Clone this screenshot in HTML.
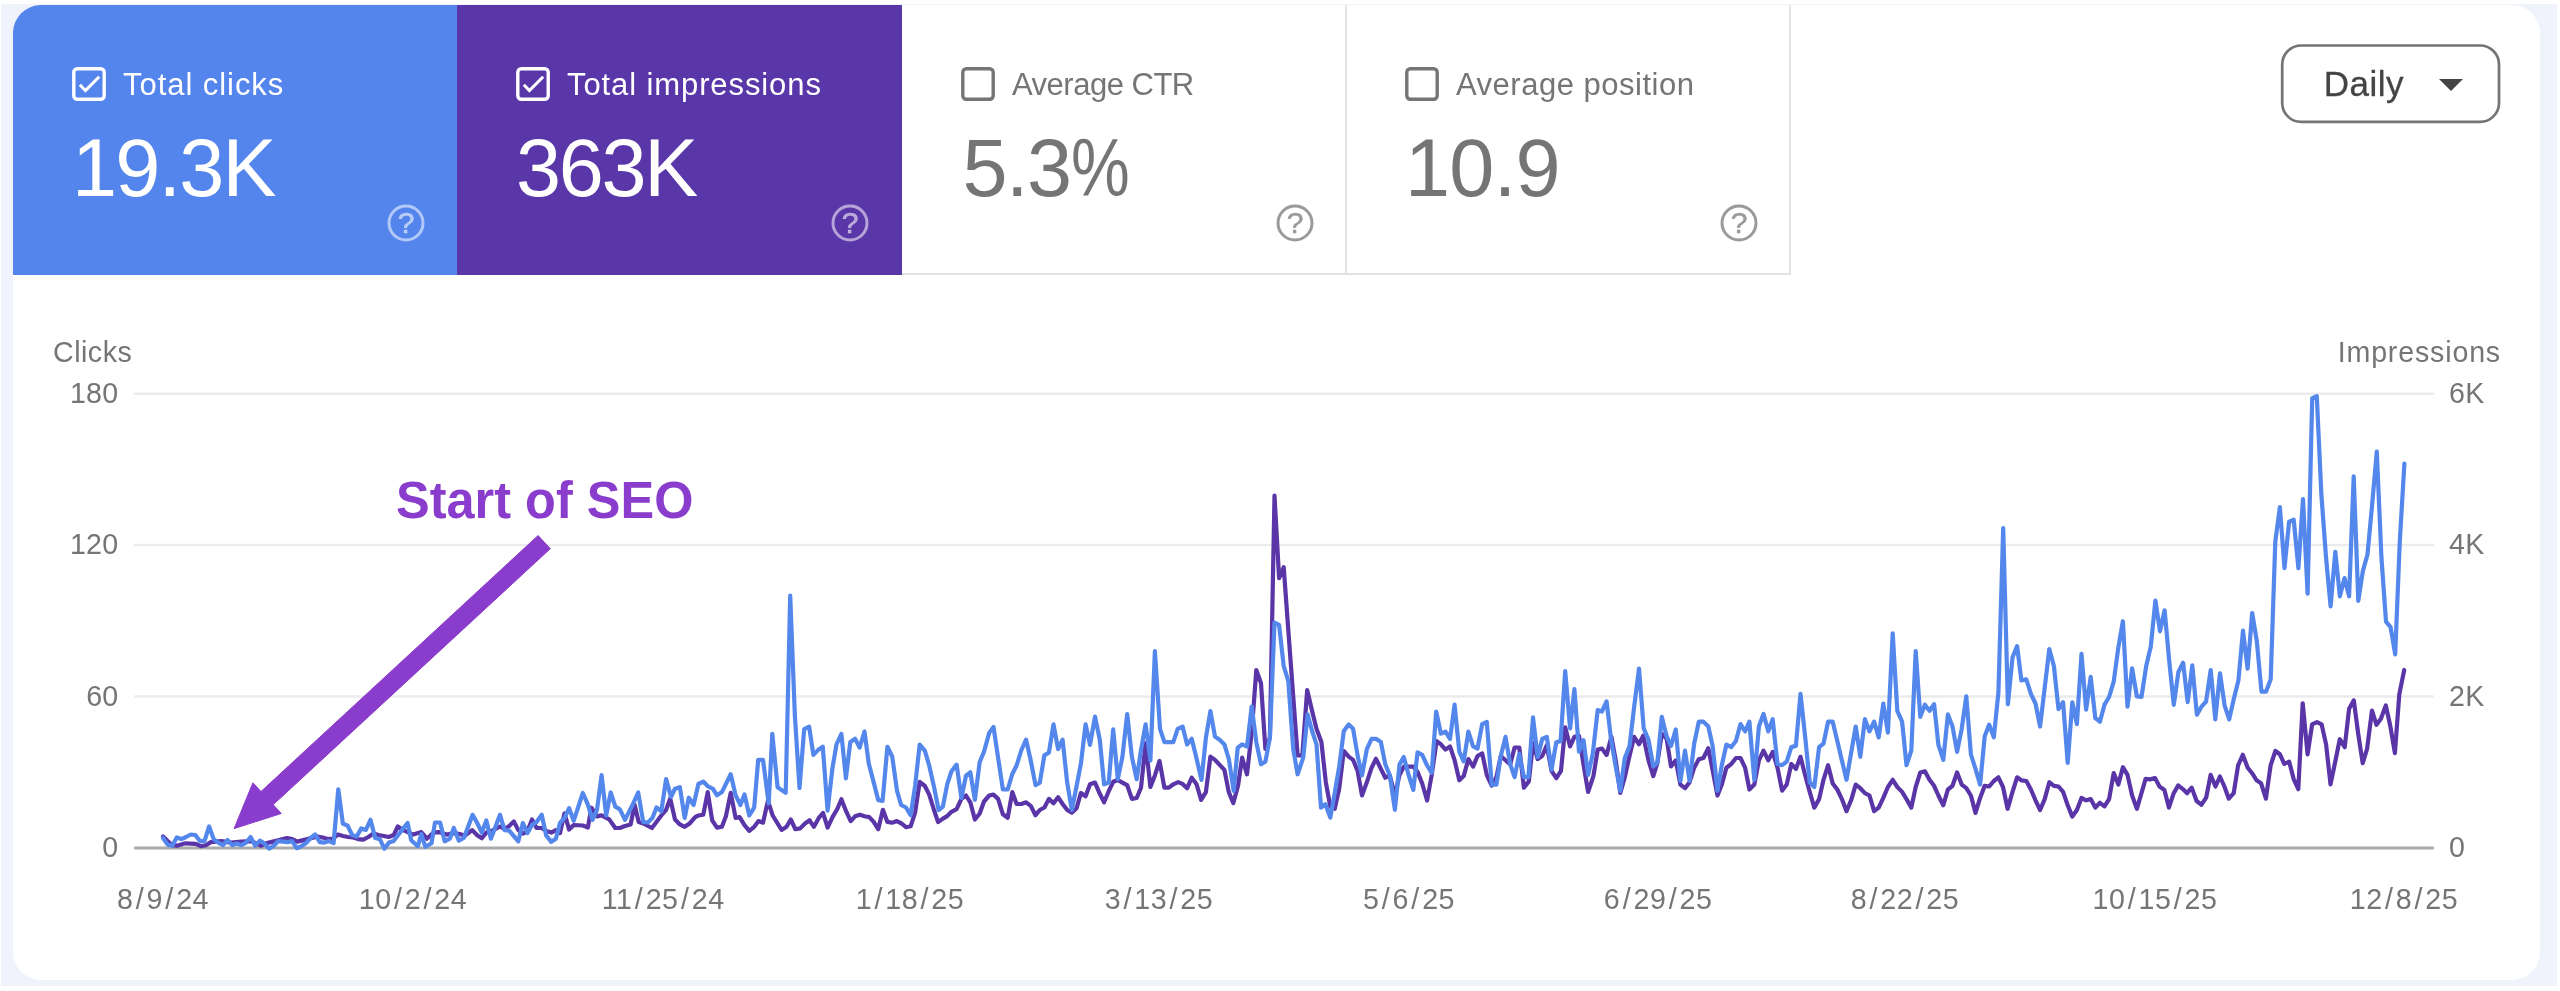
<!DOCTYPE html><html><head><meta charset="utf-8"><title>Search Console Performance</title><style>

*{margin:0;padding:0;box-sizing:border-box}
html,body{width:2560px;height:991px;overflow:hidden;background:#fff;font-family:"Liberation Sans",sans-serif}
#root{position:absolute;left:0;top:0;width:2560px;height:991px;will-change:transform;transform:translateZ(0)}
#bg{position:absolute;left:1px;top:4px;width:2556px;height:982px;background:#f0f3fb}
#card{position:absolute;left:13px;top:5px;width:2527px;height:975px;background:#fff;border-radius:28px;overflow:hidden}
.tile{position:absolute;top:0;height:270px;width:445px}
.tile .lbl{position:absolute;left:110px;top:60px;font-size:31px;line-height:40px;white-space:nowrap}
.tile .num{position:absolute;left:59px;top:115px;font-size:81px;line-height:96px;white-space:nowrap}
.pc{display:inline-block;transform:scaleX(.815);transform-origin:0 50%}
.tile svg.cb{position:absolute;left:57.3px;top:59.6px}
.tile svg.help{position:absolute;left:371.5px;top:197.4px}
#t1{left:0;background:#5485ec;color:#fff}
#t2{left:444px;width:445px;background:#5a37a8;color:#fff}
#t3{left:889px;color:#757575;border-right:2px solid #e2e2e2;border-bottom:2px solid #e2e2e2}
#t4{left:1333px;color:#757575;border-right:2px solid #e2e2e2;border-bottom:2px solid #e2e2e2}
#t1 .lbl{letter-spacing:0.95px} #t2 .lbl{letter-spacing:0.9px} #t3 .lbl{letter-spacing:-0.5px} #t4 .lbl{letter-spacing:0.5px}
#t1 .num{letter-spacing:-1.8px} #t2 .num{letter-spacing:-2.3px} #t3 .num{letter-spacing:-1.5px;left:60.5px} #t4 .num{letter-spacing:-0.7px}
#daily{position:absolute;left:2268px;top:40px;width:219px;height:78px}
#daily span{position:absolute;left:42.8px;top:18.2px;font-size:35px;line-height:42px;color:#444;letter-spacing:0.5px;-webkit-text-stroke:0.3px #444}
#daily svg{position:absolute;left:157.2px;top:33.3px}
.ax{position:absolute;font-size:28.6px;line-height:34px;color:#757575;white-space:nowrap;letter-spacing:0.28px}
.ax i{font-style:normal;padding:0 2.3px}
.xl{letter-spacing:0.58px}
#chart{position:absolute;left:0;top:0}
#anno{position:absolute;left:396px;top:469.6px;font-size:50.5px;line-height:60px;font-weight:bold;color:#8a3ccc;white-space:nowrap;transform:scaleY(1.03);transform-origin:0 0}

</style></head><body>
<div id="root"><div id="bg"></div><div id="card">
<div class="tile" id="t1"><svg class="cb" width="38" height="38" viewBox="0 0 38 38"><rect x="3.8" y="3.8" width="30.4" height="30.4" rx="3.5" fill="none" stroke="#fff" stroke-width="3.4"/><path d="M9.8 19.8 L15.4 25.5 L29.2 11.8" fill="none" stroke="#fff" stroke-width="3"/></svg><div class="lbl">Total clicks</div><div class="num">19.3K</div><svg class="help" width="42" height="42" viewBox="0 0 42 42"><circle cx="21" cy="21" r="17" fill="none" stroke="rgba(255,255,255,0.55)" stroke-width="3"/><text x="21" y="30.5" font-family="Liberation Sans" font-size="30" text-anchor="middle" fill="rgba(255,255,255,0.55)" stroke="rgba(255,255,255,0.55)" stroke-width="0.5">?</text></svg></div>
<div class="tile" id="t2"><svg class="cb" width="38" height="38" viewBox="0 0 38 38"><rect x="3.8" y="3.8" width="30.4" height="30.4" rx="3.5" fill="none" stroke="#fff" stroke-width="3.4"/><path d="M9.8 19.8 L15.4 25.5 L29.2 11.8" fill="none" stroke="#fff" stroke-width="3"/></svg><div class="lbl">Total impressions</div><div class="num">363K</div><svg class="help" width="42" height="42" viewBox="0 0 42 42"><circle cx="21" cy="21" r="17" fill="none" stroke="rgba(255,255,255,0.55)" stroke-width="3"/><text x="21" y="30.5" font-family="Liberation Sans" font-size="30" text-anchor="middle" fill="rgba(255,255,255,0.55)" stroke="rgba(255,255,255,0.55)" stroke-width="0.5">?</text></svg></div>
<div class="tile" id="t3"><svg class="cb" width="38" height="38" viewBox="0 0 38 38"><rect x="3.8" y="3.8" width="30.4" height="30.4" rx="3.5" fill="none" stroke="#757575" stroke-width="3.4"/></svg><div class="lbl">Average CTR</div><div class="num">5.3<span class="pc">%</span></div><svg class="help" width="42" height="42" viewBox="0 0 42 42"><circle cx="21" cy="21" r="17" fill="none" stroke="#9a9a9a" stroke-width="3"/><text x="21" y="30.5" font-family="Liberation Sans" font-size="30" text-anchor="middle" fill="#9a9a9a" stroke="#9a9a9a" stroke-width="0.5">?</text></svg></div>
<div class="tile" id="t4"><svg class="cb" width="38" height="38" viewBox="0 0 38 38"><rect x="3.8" y="3.8" width="30.4" height="30.4" rx="3.5" fill="none" stroke="#757575" stroke-width="3.4"/></svg><div class="lbl">Average position</div><div class="num">10.9</div><svg class="help" width="42" height="42" viewBox="0 0 42 42"><circle cx="21" cy="21" r="17" fill="none" stroke="#9a9a9a" stroke-width="3"/><text x="21" y="30.5" font-family="Liberation Sans" font-size="30" text-anchor="middle" fill="#9a9a9a" stroke="#9a9a9a" stroke-width="0.5">?</text></svg></div>
<div id="daily"><span>Daily</span><svg width="26" height="14" viewBox="0 0 26 14"><path d="M1 1 L25 1 L13 13 Z" fill="#444"/></svg></div>
</div>
<svg id="chart" width="2560" height="991" viewBox="0 0 2560 991"><rect x="134" y="392.5" width="2300" height="2.4" fill="#ebebeb"/><rect x="134" y="543.8" width="2300" height="2.4" fill="#ebebeb"/><rect x="134" y="695.3" width="2300" height="2.4" fill="#ebebeb"/><rect x="134" y="846.5" width="2300" height="3" fill="#ababab"/><path d="M163.0 836.5 L167.6 841.1 L172.2 845.2 L176.8 845.7 L185.5 843.3 L195.7 843.9 L200.8 846.2 L205.9 845.2 L210.9 842.1 L221.1 841.1 L231.3 842.6 L241.4 841.6 L251.6 841.1 L260.7 845.7 L266.8 843.1 L277.0 840.6 L287.1 838.0 L292.2 839.1 L297.3 841.6 L307.4 839.1 L317.6 836.5 L322.7 837.5 L327.7 839.1 L332.8 838.6 L337.9 834.5 L343.0 836.0 L348.0 837.0 L353.1 837.5 L358.2 839.1 L363.3 839.6 L368.4 837.0 L373.4 833.5 L378.5 835.0 L383.6 836.0 L388.7 837.0 L393.8 835.0 L397.8 826.4 L402.9 829.9 L407.6 832.1 L413.2 834.6 L421.3 832.1 L426.9 838.7 L433.5 832.6 L438.6 832.1 L446.7 834.6 L453.8 833.1 L459.9 834.1 L465.0 835.7 L472.1 830.1 L477.2 835.2 L481.8 838.2 L486.3 832.6 L491.4 831.1 L500.0 826.5 L504.6 829.1 L509.2 826.0 L513.8 821.4 L518.3 830.1 L522.9 833.6 L527.5 831.1 L532.0 819.4 L536.6 828.0 L541.7 828.0 L546.3 831.1 L551.3 832.6 L555.9 830.1 L560.0 833.1 L564.5 813.3 L569.1 829.6 L573.7 825.0 L582.8 825.5 L587.9 827.5 L591.4 807.7 L597.0 816.4 L601.6 815.4 L609.2 819.4 L615.3 828.0 L619.9 828.0 L625.0 826.0 L630.6 824.5 L634.6 804.7 L638.7 822.0 L643.2 823.5 L651.9 828.0 L661.3 815.5 L666.1 809.8 L670.2 798.5 L675.0 819.5 L679.9 824.4 L684.7 826.8 L689.6 823.5 L695.2 817.1 L698.4 815.5 L703.3 814.7 L707.7 792.1 L712.2 820.3 L717.0 827.6 L721.9 826.8 L725.9 816.3 L730.7 792.9 L735.6 817.9 L739.6 817.1 L744.5 825.2 L749.3 830.8 L754.2 826.8 L758.5 821.1 L763.0 822.7 L767.9 800.9 L772.7 815.5 L777.6 823.5 L781.6 830.0 L786.5 826.8 L790.8 819.5 L795.3 829.2 L800.2 828.4 L805.0 823.5 L809.6 820.3 L813.9 826.8 L818.8 817.9 L823.1 813.0 L827.6 827.6 L832.5 817.1 L837.3 809.0 L841.4 799.3 L846.2 811.4 L850.7 821.1 L855.1 816.3 L859.9 814.7 L864.5 816.3 L869.3 817.1 L873.7 821.9 L878.2 829.2 L882.9 809.8 L887.4 821.9 L892.2 822.7 L896.8 821.1 L901.6 823.5 L906.0 827.2 L910.6 826.3 L915.1 812.6 L919.7 781.8 L924.9 786.0 L929.2 794.6 L934.0 810.0 L938.1 822.1 L942.9 818.6 L947.2 816.1 L951.4 811.8 L956.6 809.2 L961.4 798.9 L966.0 795.5 L970.3 802.3 L974.9 819.5 L979.7 813.5 L984.0 801.5 L989.2 795.5 L993.5 794.6 L998.1 798.9 L1002.9 814.3 L1007.7 817.8 L1012.3 792.0 L1016.6 804.0 L1021.4 804.0 L1026.1 802.3 L1030.7 805.8 L1035.5 815.2 L1039.8 810.0 L1044.4 807.5 L1048.9 798.9 L1053.5 803.2 L1058.1 797.2 L1062.6 804.0 L1067.2 810.0 L1071.8 812.6 L1076.6 808.3 L1080.9 792.9 L1085.6 796.3 L1090.0 784.3 L1095.0 782.6 L1099.8 793.8 L1104.1 802.3 L1108.7 791.2 L1113.2 781.8 L1117.8 780.0 L1122.4 782.6 L1127.2 785.2 L1131.9 798.9 L1136.7 798.0 L1141.0 787.8 L1145.6 743.2 L1150.4 786.9 L1154.9 775.4 L1159.5 761.0 L1164.4 787.6 L1168.9 787.6 L1173.3 784.3 L1178.2 782.1 L1182.6 783.9 L1187.1 788.3 L1191.7 777.7 L1196.6 784.3 L1201.1 799.9 L1205.9 792.1 L1210.4 756.6 L1215.0 759.9 L1224.4 769.9 L1228.8 792.1 L1233.3 803.2 L1238.1 785.4 L1242.1 757.7 L1247.0 774.3 L1251.7 732.1 L1256.3 670.0 L1261.0 683.3 L1265.4 748.8 L1269.9 737.7 L1274.5 495.7 L1279.1 578.1 L1283.7 567.2 L1288.3 630.0 L1293.0 693.3 L1297.6 755.5 L1302.3 755.5 L1307.2 690.0 L1312.1 711.0 L1316.5 728.8 L1321.4 742.1 L1325.8 782.1 L1330.3 806.5 L1334.7 808.7 L1339.2 788.8 L1343.8 751.0 L1348.7 756.6 L1353.1 759.9 L1357.6 771.0 L1362.0 795.4 L1366.9 782.1 L1371.6 767.7 L1376.0 758.8 L1380.9 768.8 L1385.3 777.7 L1389.8 775.4 L1394.9 795.4 L1399.5 775.0 L1403.8 766.6 L1408.6 766.6 L1413.3 766.6 L1417.5 771.8 L1422.2 783.5 L1427.1 800.5 L1431.7 775.0 L1436.6 741.1 L1440.9 744.3 L1445.5 749.6 L1450.0 746.4 L1454.6 760.2 L1459.3 780.3 L1463.7 776.1 L1468.4 759.1 L1473.1 766.6 L1477.5 756.0 L1482.2 753.4 L1486.8 775.0 L1491.7 785.6 L1496.4 777.1 L1500.8 756.0 L1505.5 760.2 L1510.2 764.4 L1514.6 747.5 L1519.3 747.5 L1523.9 787.7 L1528.8 781.4 L1533.0 743.2 L1537.7 759.1 L1542.2 756.0 L1546.8 745.4 L1551.5 770.8 L1556.3 778.2 L1561.0 770.8 L1565.2 727.3 L1570.1 746.4 L1574.4 736.9 L1579.0 735.8 L1583.5 764.4 L1588.1 792.0 L1593.4 776.1 L1597.7 749.6 L1601.9 748.5 L1606.6 754.9 L1611.4 736.9 L1615.7 760.2 L1620.3 793.0 L1624.8 777.1 L1629.5 756.0 L1634.1 736.9 L1639.0 744.3 L1643.2 735.8 L1648.5 760.4 L1653.3 776.1 L1657.4 762.8 L1661.8 733.8 L1666.6 738.6 L1671.0 766.5 L1675.8 760.4 L1680.4 784.6 L1685.0 788.2 L1689.6 782.2 L1694.2 767.7 L1698.8 759.2 L1703.4 758.0 L1708.3 748.3 L1712.6 770.1 L1717.5 795.5 L1721.8 784.6 L1726.4 767.7 L1731.3 764.0 L1735.9 758.0 L1740.5 758.0 L1745.1 767.7 L1749.4 789.5 L1754.3 784.6 L1758.9 760.4 L1763.5 750.7 L1768.3 760.4 L1772.7 751.9 L1777.5 767.7 L1782.1 790.7 L1786.7 784.6 L1791.3 764.0 L1795.9 768.9 L1800.5 756.8 L1805.1 774.9 L1809.7 791.9 L1814.3 807.6 L1819.1 799.1 L1823.5 779.8 L1828.1 765.2 L1832.7 783.4 L1837.3 789.5 L1841.9 799.1 L1846.5 811.2 L1851.1 800.3 L1855.7 784.6 L1860.3 788.2 L1864.9 793.1 L1869.5 795.5 L1874.1 811.2 L1878.7 807.6 L1883.3 797.9 L1887.9 787.0 L1892.7 779.8 L1897.3 787.0 L1902.1 791.9 L1906.5 799.1 L1911.3 807.6 L1915.7 787.0 L1920.3 772.5 L1924.9 771.3 L1929.5 779.8 L1934.1 785.8 L1938.4 795.5 L1943.3 805.2 L1947.9 789.5 L1952.5 785.8 L1957.1 772.5 L1961.7 784.6 L1966.3 788.2 L1970.9 795.5 L1975.5 812.9 L1980.1 797.9 L1984.7 785.8 L1989.2 786.5 L1993.8 781.0 L1998.4 777.3 L2003.0 787.0 L2007.6 808.8 L2012.5 791.9 L2017.1 777.3 L2021.4 780.3 L2026.3 781.0 L2030.9 789.5 L2035.5 800.3 L2040.1 810.0 L2044.7 799.1 L2049.3 782.2 L2053.9 785.8 L2058.5 786.5 L2063.1 791.9 L2067.7 805.2 L2072.3 816.6 L2076.9 810.0 L2081.5 797.9 L2086.1 800.3 L2090.7 799.1 L2095.3 807.6 L2099.9 802.8 L2104.5 806.4 L2109.1 799.1 L2113.7 773.0 L2118.3 784.6 L2122.9 767.2 L2127.5 774.9 L2132.1 795.5 L2136.9 808.8 L2145.6 778.8 L2150.0 779.4 L2155.1 778.1 L2159.5 786.5 L2164.4 789.9 L2168.9 807.6 L2173.7 793.2 L2178.2 785.4 L2182.6 788.8 L2187.1 793.2 L2191.7 787.6 L2196.6 801.0 L2201.5 804.7 L2206.2 797.6 L2210.6 774.8 L2215.5 786.5 L2219.9 776.5 L2224.4 786.5 L2228.8 798.7 L2233.7 793.2 L2238.1 765.4 L2242.8 754.8 L2247.7 767.7 L2252.1 773.2 L2256.6 780.3 L2261.0 783.2 L2265.9 798.7 L2270.6 765.4 L2275.4 751.0 L2279.9 754.3 L2284.3 763.9 L2289.2 761.7 L2293.6 778.8 L2298.3 789.2 L2302.7 703.3 L2307.6 754.3 L2312.1 724.4 L2317.0 722.1 L2321.6 724.4 L2326.1 744.4 L2330.5 784.3 L2335.4 761.0 L2339.8 739.2 L2344.7 747.2 L2349.1 708.8 L2353.8 700.4 L2358.3 734.4 L2362.7 763.2 L2367.1 748.8 L2372.0 710.6 L2376.5 724.8 L2380.9 718.8 L2385.8 705.5 L2390.2 725.5 L2394.9 753.2 L2399.3 694.4 L2404.2 670.0" fill="none" stroke="#5a35a7" stroke-width="4.2" stroke-linejoin="round" stroke-linecap="round"/><path d="M163.0 838.0 L167.6 844.6 L172.2 845.7 L176.8 837.5 L181.4 839.1 L186.1 837.0 L190.7 834.5 L195.3 835.0 L199.9 841.1 L204.5 841.1 L209.1 826.4 L213.7 839.1 L218.3 842.6 L223.0 845.2 L227.6 840.1 L232.2 845.2 L236.8 843.6 L241.4 845.2 L246.0 842.6 L250.6 837.0 L255.2 845.7 L259.9 840.6 L264.5 843.6 L269.1 848.7 L273.7 845.7 L278.3 841.1 L282.9 841.6 L287.5 842.1 L292.1 841.1 L296.7 848.2 L301.4 846.2 L306.0 843.1 L310.6 838.0 L315.2 834.5 L319.8 842.1 L324.4 842.6 L329.0 841.1 L333.6 843.1 L338.3 789.3 L342.9 823.8 L347.5 825.4 L352.1 835.0 L356.7 836.5 L361.3 828.4 L365.9 829.9 L370.5 819.8 L375.2 838.0 L379.8 839.1 L384.4 848.7 L389.0 842.6 L393.6 841.1 L398.2 835.0 L402.8 828.9 L407.6 823.0 L411.2 840.2 L417.8 846.3 L421.3 834.1 L425.4 846.8 L431.5 843.3 L435.0 822.5 L440.1 822.5 L444.7 841.3 L449.8 838.7 L453.8 828.0 L458.9 840.7 L464.0 837.7 L472.6 814.8 L477.2 823.0 L481.8 832.6 L486.3 820.4 L490.9 838.7 L500.0 814.8 L504.6 830.1 L509.2 830.6 L518.3 841.3 L522.9 823.0 L527.5 833.1 L532.0 825.0 L536.6 822.0 L541.7 814.8 L546.3 835.7 L551.3 841.8 L555.9 838.7 L560.0 823.0 L564.5 817.9 L569.1 808.2 L573.7 820.9 L582.8 793.0 L587.9 804.7 L592.5 819.9 L597.0 809.8 L601.6 775.2 L606.2 815.4 L610.7 792.5 L615.3 806.7 L619.9 809.3 L625.0 819.9 L633.6 802.7 L638.2 792.5 L643.2 822.0 L647.8 822.5 L652.4 817.9 L656.5 807.4 L661.3 811.4 L666.1 779.1 L671.0 796.9 L675.0 788.8 L679.9 787.2 L684.7 817.9 L688.8 797.7 L693.6 805.0 L698.4 784.0 L703.3 781.6 L708.1 786.4 L713.0 788.8 L717.0 795.3 L721.9 792.1 L730.7 774.3 L735.6 795.3 L740.4 805.0 L744.5 794.5 L749.3 815.5 L754.2 807.4 L758.2 759.8 L763.0 759.8 L768.7 803.4 L772.3 733.9 L777.6 787.2 L785.7 792.9 L790.2 595.5 L794.9 716.1 L799.5 788.0 L804.2 729.1 L809.1 726.6 L813.4 754.9 L818.0 750.1 L822.8 746.8 L827.6 810.6 L832.5 767.8 L836.5 744.4 L841.4 733.9 L845.9 778.3 L850.3 742.0 L855.1 738.8 L859.6 747.6 L864.5 731.5 L868.8 763.8 L873.7 782.4 L878.2 800.1 L882.6 800.9 L887.4 746.8 L892.2 756.5 L897.1 791.2 L901.1 805.0 L906.0 807.5 L910.6 815.2 L915.1 786.0 L919.7 744.5 L924.9 750.9 L929.2 765.5 L934.0 786.9 L938.6 810.0 L942.9 806.6 L947.2 784.3 L951.4 771.5 L956.6 764.6 L961.4 798.0 L966.0 775.7 L970.3 772.3 L974.9 799.8 L979.7 762.0 L984.0 751.7 L989.2 732.9 L993.5 726.9 L998.1 757.7 L1002.9 789.5 L1007.7 789.5 L1012.3 774.0 L1016.6 765.5 L1021.4 750.0 L1026.1 739.7 L1030.7 760.3 L1035.5 785.2 L1039.8 782.6 L1044.4 755.2 L1048.9 752.6 L1053.5 724.3 L1058.1 749.2 L1062.6 739.7 L1067.2 782.6 L1071.8 810.0 L1076.6 786.0 L1080.9 763.7 L1085.6 724.3 L1090.0 744.9 L1095.0 716.6 L1099.8 739.7 L1104.1 784.3 L1108.7 782.6 L1113.2 729.4 L1117.8 779.2 L1122.4 756.9 L1127.2 714.0 L1131.9 756.9 L1136.7 779.2 L1141.0 750.0 L1145.6 724.3 L1150.4 760.3 L1154.9 651.1 L1160.0 728.8 L1164.4 742.1 L1173.3 742.1 L1177.7 728.8 L1182.6 726.6 L1187.1 744.4 L1191.7 738.8 L1196.6 758.8 L1201.5 779.9 L1205.9 737.7 L1210.4 711.0 L1215.0 736.6 L1219.9 739.9 L1224.4 744.4 L1228.8 758.8 L1233.7 791.0 L1237.7 747.7 L1242.1 744.4 L1247.0 746.6 L1251.7 706.6 L1256.3 742.1 L1261.0 764.3 L1265.4 761.7 L1269.9 737.7 L1274.5 622.7 L1279.1 624.9 L1283.7 666.0 L1288.3 681.1 L1293.2 748.8 L1297.6 774.3 L1303.2 757.7 L1307.6 714.4 L1312.1 731.0 L1316.5 744.4 L1321.0 807.6 L1325.4 804.3 L1330.3 817.6 L1334.7 793.2 L1339.2 766.6 L1343.8 731.0 L1348.7 724.4 L1353.1 728.8 L1357.6 755.5 L1362.0 775.4 L1366.9 748.8 L1371.6 738.8 L1376.0 738.8 L1380.9 742.1 L1385.3 764.3 L1389.8 775.4 L1394.9 809.8 L1399.5 764.4 L1403.8 757.0 L1408.6 775.0 L1413.3 789.9 L1417.5 752.4 L1422.2 754.9 L1427.1 765.5 L1431.7 772.9 L1436.2 711.5 L1440.9 733.7 L1445.5 731.6 L1450.0 739.0 L1454.6 704.7 L1459.3 751.7 L1463.7 761.3 L1468.4 731.6 L1473.1 746.4 L1477.5 748.5 L1482.2 724.2 L1486.8 722.0 L1491.7 784.6 L1496.4 784.6 L1500.8 756.0 L1505.5 736.9 L1510.2 764.4 L1514.6 777.1 L1519.3 753.8 L1523.9 777.1 L1528.4 777.1 L1533.0 717.4 L1537.7 757.0 L1542.2 739.0 L1546.8 736.9 L1551.5 769.7 L1556.3 742.2 L1560.6 741.1 L1565.2 671.2 L1570.1 728.4 L1574.4 689.2 L1579.0 751.7 L1583.5 740.1 L1588.1 775.0 L1592.8 753.8 L1597.7 710.0 L1601.9 711.5 L1606.6 701.5 L1611.0 739.0 L1615.7 766.6 L1620.3 790.9 L1624.8 758.1 L1629.5 746.4 L1634.1 707.2 L1639.0 668.6 L1643.7 728.4 L1648.5 739.8 L1653.3 766.5 L1657.4 762.8 L1661.8 716.8 L1666.6 736.2 L1671.0 745.9 L1675.8 729.4 L1680.4 781.0 L1685.0 750.7 L1689.6 781.0 L1694.2 743.5 L1698.8 721.7 L1703.4 721.7 L1708.3 726.5 L1712.6 745.9 L1717.5 790.7 L1721.8 765.2 L1726.4 744.7 L1731.3 747.1 L1735.9 741.0 L1740.5 724.1 L1745.1 731.4 L1749.4 721.7 L1754.3 779.8 L1758.9 726.5 L1763.5 713.9 L1768.3 731.4 L1772.7 719.2 L1777.5 764.0 L1782.1 765.2 L1786.7 761.6 L1791.3 747.1 L1795.9 745.9 L1800.5 693.8 L1805.1 736.2 L1809.7 782.2 L1814.3 787.0 L1819.1 747.1 L1823.5 743.5 L1828.1 721.7 L1832.7 721.7 L1837.3 741.0 L1841.9 760.4 L1846.5 779.8 L1851.1 753.1 L1855.7 726.5 L1860.3 756.8 L1864.9 719.2 L1869.5 731.4 L1874.1 721.7 L1878.7 737.4 L1883.3 703.5 L1887.9 732.6 L1892.7 633.3 L1897.3 710.8 L1902.1 721.7 L1906.5 765.2 L1911.3 750.7 L1915.7 651.0 L1920.3 716.8 L1924.9 704.7 L1929.5 710.8 L1934.1 704.2 L1938.4 744.7 L1943.3 759.9 L1947.9 714.4 L1952.5 726.5 L1957.1 751.9 L1961.7 728.9 L1966.3 696.3 L1970.9 754.4 L1975.5 768.9 L1980.1 784.6 L1984.7 736.2 L1989.2 724.6 L1993.8 737.4 L1998.4 692.6 L2003.2 528.0 L2007.9 704.2 L2012.5 657.5 L2017.1 646.1 L2021.4 680.5 L2026.3 679.3 L2030.9 693.8 L2035.5 703.5 L2040.1 726.5 L2044.7 687.8 L2049.3 649.0 L2053.9 666.0 L2058.5 709.1 L2063.1 702.3 L2067.7 762.8 L2072.3 702.3 L2076.9 724.1 L2081.5 653.9 L2086.1 709.6 L2090.7 676.9 L2095.3 718.0 L2099.9 721.7 L2104.5 704.7 L2109.1 697.0 L2113.7 681.7 L2118.3 647.8 L2122.9 621.2 L2127.5 706.7 L2132.1 668.4 L2136.9 696.3 L2141.5 696.9 L2146.2 666.1 L2150.8 646.4 L2155.4 600.5 L2160.0 631.3 L2164.6 610.3 L2169.2 660.8 L2173.8 704.8 L2178.4 672.0 L2183.1 662.8 L2187.7 702.1 L2192.3 665.4 L2196.9 714.6 L2201.5 706.7 L2206.1 701.5 L2210.7 670.0 L2215.3 719.4 L2220.0 673.3 L2224.6 705.4 L2229.2 719.4 L2233.8 698.9 L2238.4 680.5 L2243.0 630.7 L2247.6 668.7 L2252.2 613.0 L2256.8 641.1 L2261.5 691.6 L2266.1 691.6 L2270.7 679.2 L2275.3 541.5 L2279.9 507.1 L2284.5 568.1 L2289.1 521.7 L2293.7 519.8 L2298.4 568.1 L2303.0 499.0 L2307.6 593.6 L2312.2 398.2 L2316.8 396.3 L2321.4 495.0 L2326.0 557.0 L2330.6 606.3 L2335.3 551.8 L2339.9 596.3 L2344.5 578.1 L2349.1 596.3 L2353.7 476.3 L2358.3 600.8 L2362.9 570.9 L2367.5 554.5 L2372.1 505.0 L2376.8 451.7 L2381.4 557.0 L2386.0 621.7 L2390.6 627.2 L2395.2 654.4 L2399.8 541.0 L2404.4 463.5" fill="none" stroke="#5487ec" stroke-width="4.2" stroke-linejoin="round" stroke-linecap="round"/><rect x="2282.2" y="45.5" width="216.8" height="76.4" rx="19" fill="none" stroke="#747474" stroke-width="2.7"/><path d="M234.1 828.6 L252.9 782.8 L261.0 791.5 L538.1 535.5 L550.3 548.7 L273.2 804.7 L281.3 813.5 Z" fill="#8a3ccc" stroke="#8a3ccc" stroke-width="1" stroke-linejoin="round"/></svg>
<div class="ax" style="left:53px;top:334.5px;letter-spacing:0.5px">Clicks</div>
<div class="ax" style="right:59px;top:334.5px;letter-spacing:0.83px">Impressions</div>
<div class="ax" style="right:2441.5px;top:376.1px">180</div>
<div class="ax" style="right:2441.5px;top:527.4px">120</div>
<div class="ax" style="right:2441.5px;top:678.9px">60</div>
<div class="ax" style="right:2441.5px;top:830.4px">0</div>
<div class="ax" style="left:2449px;top:376.1px">6K</div>
<div class="ax" style="left:2449px;top:527.4px">4K</div>
<div class="ax" style="left:2449px;top:678.9px">2K</div>
<div class="ax" style="left:2449px;top:830.4px">0</div>
<div class="ax xl" style="left:63px;width:200px;text-align:center;top:882px">8<i>/</i>9<i>/</i>24</div>
<div class="ax xl" style="left:313px;width:200px;text-align:center;top:882px">10<i>/</i>2<i>/</i>24</div>
<div class="ax xl" style="left:563.2px;width:200px;text-align:center;top:882px">11<i>/</i>25<i>/</i>24</div>
<div class="ax xl" style="left:810px;width:200px;text-align:center;top:882px">1<i>/</i>18<i>/</i>25</div>
<div class="ax xl" style="left:1059px;width:200px;text-align:center;top:882px">3<i>/</i>13<i>/</i>25</div>
<div class="ax xl" style="left:1309px;width:200px;text-align:center;top:882px">5<i>/</i>6<i>/</i>25</div>
<div class="ax xl" style="left:1558.2px;width:200px;text-align:center;top:882px">6<i>/</i>29<i>/</i>25</div>
<div class="ax xl" style="left:1805px;width:200px;text-align:center;top:882px">8<i>/</i>22<i>/</i>25</div>
<div class="ax xl" style="left:2055px;width:200px;text-align:center;top:882px">10<i>/</i>15<i>/</i>25</div>
<div class="ax xl" style="left:2304px;width:200px;text-align:center;top:882px">12<i>/</i>8<i>/</i>25</div>
<div id="anno">Start of SEO</div>
</div></body></html>
